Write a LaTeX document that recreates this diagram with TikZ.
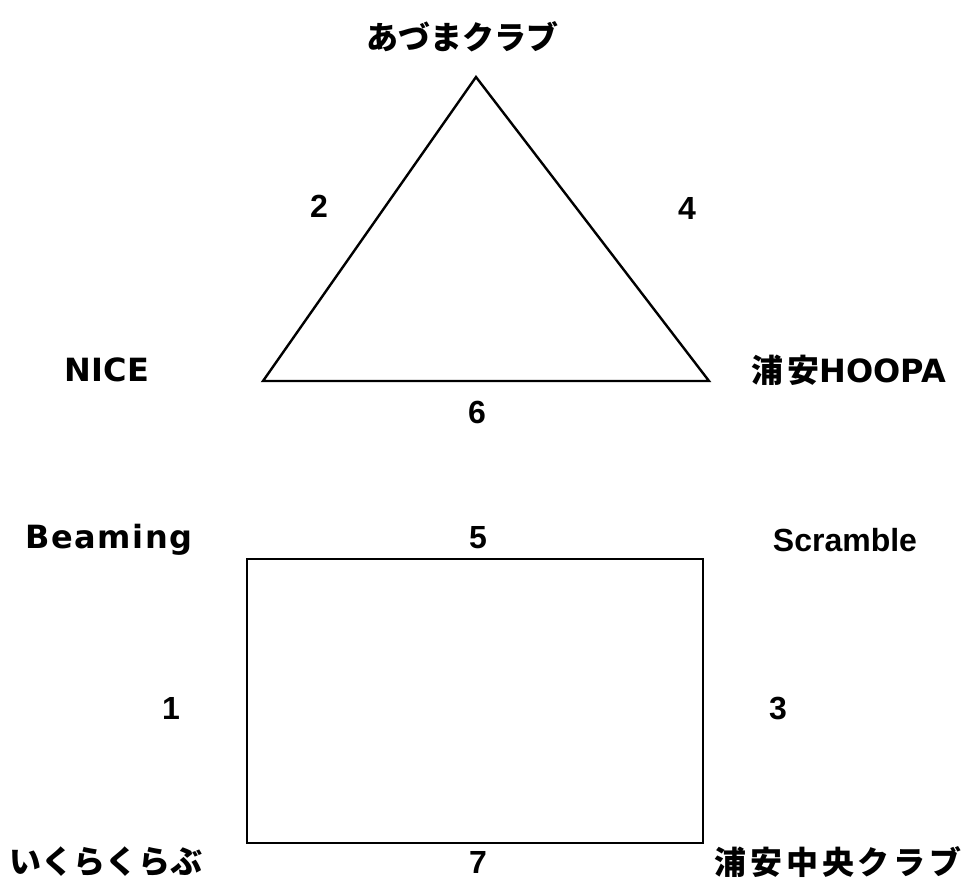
\documentclass[tikz,border=0pt]{standalone}
\usepackage{fontspec}
\setmainfont{DejaVu Sans}
\newfontfamily\jpfont{Noto Sans CJK JP}
\newfontfamily\jpwide{Noto Sans CJK JP}[LetterSpace=12]
\newfontfamily\arialfont{Liberation Sans}
\newfontfamily\dejawide{DejaVu Sans}[LetterSpace=5]
\usetikzlibrary{positioning}

\begin{document}
\begin{tikzpicture}[x=0.5pt, y=-0.5pt,
    teamlabel/.style={font=\fontsize{16}{18}\selectfont\bfseries, inner sep=0pt},
    gamelabel/.style={font=\arialfont\fontsize{16}{18}\selectfont\bfseries, inner sep=0pt},
    edge/.style={line width=1.2pt, line join=miter},]
    \useasboundingbox (0,0) rectangle (978,890);
    % corners
    \coordinate (azuma)  at (476,77);
    \coordinate (nice)   at (263,381);
    \coordinate (hoopa)  at (709,381);
    \coordinate (beam)   at (247,559);
    \coordinate (scram)  at (703,559);
    \coordinate (ikura)  at (247,843);
    \coordinate (chuo)   at (703,843);
    % team names
    \node[teamlabel] (tAzuma) at (462,37)  {\jpfont あづまクラブ};
    \node[teamlabel] (tNice)  at (107,370) {NICE};
    \node[teamlabel] (tHoopa) at (849,370) {{\jpwide 浦安}HOOPA};
    \node[teamlabel] (tBeam)  at (109,540) {\dejawide Beaming};
    \node[teamlabel] (tScram) at (845,540) {\arialfont Scramble};
    \node[teamlabel] (tIkura) at (106,862) {\jpfont いくらくらぶ};
    \node[teamlabel] (tChuo)  at (838,862) {\jpwide 浦安中央クラブ};
    % game numbers
    \node[gamelabel] (g2) at (319,206) {2};
    \node[gamelabel] (g4) at (687,208) {4};
    \node[gamelabel] (g6) at (477,412) {6};
    \node[gamelabel] (g5) at (478,538) {5};
    \node[gamelabel] (g1) at (171,708) {1};
    \node[gamelabel] (g3) at (778,708) {3};
    \node[gamelabel] (g7) at (478,862) {7};
    % lines
    \draw[edge] (azuma) -- (hoopa) -- (nice) -- cycle;
    \draw[edge] (beam) -- (scram) -- (chuo) -- (ikura) -- cycle;
\end{tikzpicture}
\end{document}
